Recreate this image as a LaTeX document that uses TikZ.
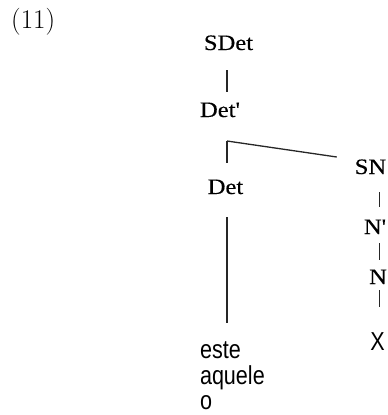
\documentclass[tikz,border=0pt]{standalone}
\usepackage{fontspec}
\newfontfamily\treefont[FakeStretch=1.12,FakeBold=0.4]{Liberation Serif}
\newfontfamily\lexfont[FakeStretch=0.83]{Liberation Sans}
\begin{document}
\begin{tikzpicture}[x=1pt,y=1pt,
  cat/.style={inner sep=0pt,outer sep=0pt,anchor=base,text height=14pt,text depth=0pt,
    font=\treefont\fontsize{22}{26}\selectfont},
  lex/.style={inner sep=0pt,outer sep=0pt,text height=14pt,text depth=0pt,
    font=\lexfont\fontsize{26}{30}\selectfont},
  branch/.style={line width=1.3pt,draw=black!85}]
\useasboundingbox (0,0) rectangle (388,-415);
\node[inner sep=0pt,anchor=base west,font=\fontsize{27}{31}\selectfont] (ex) at (11,-28) {(11)};
\coordinate (colL) at (227,0);
\coordinate (colR) at (379.5,0);
\node[cat] (sdet) at (228.5,-50) {SDet};
\node[cat] (detp) at (220,-117) {Det'};
\node[cat] (det) at (225.5,-194) {Det};
\node[cat] (sn) at (370.5,-174) {SN};
\node[cat] (np) at (375,-234) {N'};
\node[cat] (n) at (378,-284) {N};
\node[lex,anchor=base] (x) at (377.5,-350) {X};
\node[lex,anchor=base west] (este) at (200,-358) {este};
\node[lex,anchor=base west] (aquele) at (200,-384) {aquele};
\node[lex,anchor=base west] (o) at (200,-409.5) {o};
\coordinate (j) at (227,-141);
% SDet -- Det'
\draw[branch,shorten <=20pt,shorten >=11pt] (sdet.south -| colL) -- (detp.north -| colL);
% Det' branches
\draw[branch,shorten >=17pt] (j) -- (det.north -| j);
\draw[branch] (j) -- ([shift={(-18pt,3pt)}]sn.north west);
% Det -- lexical items
\draw[branch,shorten <=23pt,shorten >=21pt] (det.south -| colL) -- (este.north -| colL);
% SN -- N' -- N -- X
\draw[branch,shorten <=18pt,shorten >=13pt] (sn.south -| colR) -- (np.north -| colR);
\draw[branch,shorten <=9pt,shorten >=10pt] (np.south -| colR) -- (n.north -| colR);
\draw[branch,shorten <=6pt,shorten >=29pt] (n.south -| colR) -- (x.north -| colR);
\end{tikzpicture}
\end{document}
